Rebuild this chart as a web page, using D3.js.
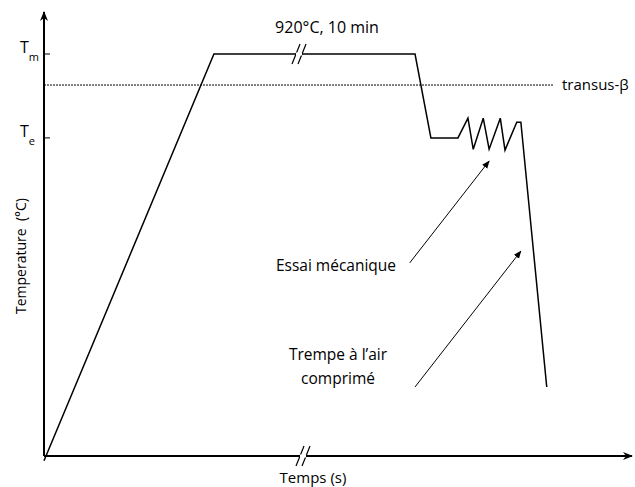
<!DOCTYPE html>
<html>
<head>
<meta charset="utf-8">
<script src="https://cdn.jsdelivr.net/npm/d3@7"></script>
<style>
  body { margin: 0; background: #fff; }
  text { font-family: "Open Sans", "Noto Sans", sans-serif; fill: #000; }
</style>
</head>
<body>
<div id="chart"></div>
<script>
// schematic heat-treatment cycle (time in arbitrary units, temperature in °C)
var cycleTime = [0, 28.9, 63.1, 65.8, 70.4, 72.1, 73.0, 74.7, 75.7, 77.6, 78.4, 80.4, 81.1, 85.5];
var cycleTemp = [-11, 920, 920, 728, 728, 773, 702, 773, 702, 773, 700, 764, 764, 158];

var tickTemps = [920, 728];
var tickNames = ["m", "e"];
var transusTemp = 849;

// annotation arrows: [tailTime, tailTemp, headTime, headTemp]
var arrowEssai = [62.2, 442, 75.7, 675];
var arrowTrempe = [63.1, 158, 81.1, 469];
var breakTime = 43.2;

var width = 635, height = 487;
var svg = d3.select("#chart").append("svg")
    .attr("width", width)
    .attr("height", height);

var x = d3.scaleLinear().domain([0, 100]).range([44, 632]);
var y = d3.scaleLinear().domain([0, 920]).range([456, 54]);

// arrow heads
var defs = svg.append("defs");
defs.append("marker")
    .attr("id", "axisHead")
    .attr("viewBox", "0 0 10 10")
    .attr("refX", 9).attr("refY", 5)
    .attr("markerWidth", 10).attr("markerHeight", 10)
    .attr("markerUnits", "userSpaceOnUse")
    .attr("orient", "auto")
  .append("path")
    .attr("d", "M0,1 L10,5 L0,9 L3,5 z")
    .attr("fill", "#000");
defs.append("marker")
    .attr("id", "smallHead")
    .attr("viewBox", "0 0 10 10")
    .attr("refX", 9).attr("refY", 5)
    .attr("markerWidth", 8).attr("markerHeight", 8)
    .attr("markerUnits", "userSpaceOnUse")
    .attr("orient", "auto")
  .append("path")
    .attr("d", "M0,1 L10,5 L0,9 z")
    .attr("fill", "#000");

// transus line
svg.append("line")
    .attr("x1", x(0)).attr("x2", 553)
    .attr("y1", y(transusTemp)).attr("y2", y(transusTemp))
    .attr("stroke", "#000")
    .attr("stroke-width", 1)
    .attr("stroke-dasharray", "2,1");
svg.append("text")
    .attr("x", 562).attr("y", y(transusTemp) + 5)
    .style("font-size", "15px")
    .text("transus-β");

// axes
svg.append("line")
    .attr("x1", x(0)).attr("y1", y(0))
    .attr("x2", x(0)).attr("y2", 12)
    .attr("stroke", "#000").attr("stroke-width", 2)
    .attr("marker-end", "url(#axisHead)");
svg.append("line")
    .attr("x1", x(0)).attr("y1", y(0))
    .attr("x2", x(100)).attr("y2", y(0))
    .attr("stroke", "#000").attr("stroke-width", 2)
    .attr("marker-end", "url(#axisHead)");

// temperature ticks
var ticks = svg.selectAll("g.tick")
    .data(tickTemps)
  .enter().append("g")
    .attr("class", "tick")
    .attr("transform", function(d) { return "translate(0," + y(d) + ")"; });
ticks.append("line")
    .attr("x1", x(0)).attr("x2", x(0) + 6)
    .attr("stroke", "#000").attr("stroke-width", 1);
var tl = ticks.append("text")
    .attr("x", 20).attr("y", -1)
    .style("font-size", "16px");
tl.append("tspan").text("T");
tl.append("tspan")
    .attr("dy", 8)
    .style("font-size", "11px")
    .text(function(d, i) { return tickNames[i]; });

// cycle curve
var pts = cycleTime.map(function(t, i) { return [t, cycleTemp[i]]; });
svg.append("path")
    .datum(pts)
    .attr("fill", "none")
    .attr("stroke", "#000")
    .attr("stroke-width", 1.5)
    .attr("stroke-linejoin", "miter")
    .attr("d", d3.line()
        .x(function(d) { return x(d[0]); })
        .y(function(d) { return y(d[1]); }));

// break marks "//"
function breakMark(cx, cy) {
    [-3, 3].forEach(function(o) {
        svg.append("line")
            .attr("x1", cx + o - 4).attr("y1", cy + 10)
            .attr("x2", cx + o + 4).attr("y2", cy - 10)
            .attr("stroke", "#000").attr("stroke-width", 1.2);
    });
    svg.append("line")
        .attr("x1", cx - 3).attr("x2", cx + 3)
        .attr("y1", cy).attr("y2", cy)
        .attr("stroke", "#fff").attr("stroke-width", 3);
}
breakMark(x(breakTime) + 1, y(920));
breakMark(x(breakTime) + 5, y(0));

// annotations
[arrowEssai, arrowTrempe].forEach(function(a) {
    svg.append("line")
        .attr("x1", x(a[0])).attr("y1", y(a[1]))
        .attr("x2", x(a[2])).attr("y2", y(a[3]))
        .attr("stroke", "#000").attr("stroke-width", 1)
        .attr("marker-end", "url(#smallHead)");
});

svg.append("text")
    .attr("x", 327).attr("y", 33)
    .attr("text-anchor", "middle")
    .style("font-size", "16px")
    .text("920°C, 10 min");
svg.append("text")
    .attr("x", 336).attr("y", 271)
    .attr("text-anchor", "middle")
    .style("font-size", "15.5px")
    .text("Essai mécanique");
svg.append("text")
    .attr("x", 338).attr("y", 360)
    .attr("text-anchor", "middle")
    .style("font-size", "15.5px")
    .text("Trempe à l’air");
svg.append("text")
    .attr("x", 338).attr("y", 384)
    .attr("text-anchor", "middle")
    .style("font-size", "15.5px")
    .text("comprimé");

// axis titles
svg.append("text")
    .attr("x", 313).attr("y", 483)
    .attr("text-anchor", "middle")
    .style("font-size", "15px")
    .text("Temps (s)");
svg.append("text")
    .attr("transform", "translate(26,256) rotate(-90)")
    .attr("text-anchor", "middle")
    .style("font-size", "14px")
    .style("white-space", "pre")
    .text("Temperature  (°C)");
</script>
</body>
</html>
